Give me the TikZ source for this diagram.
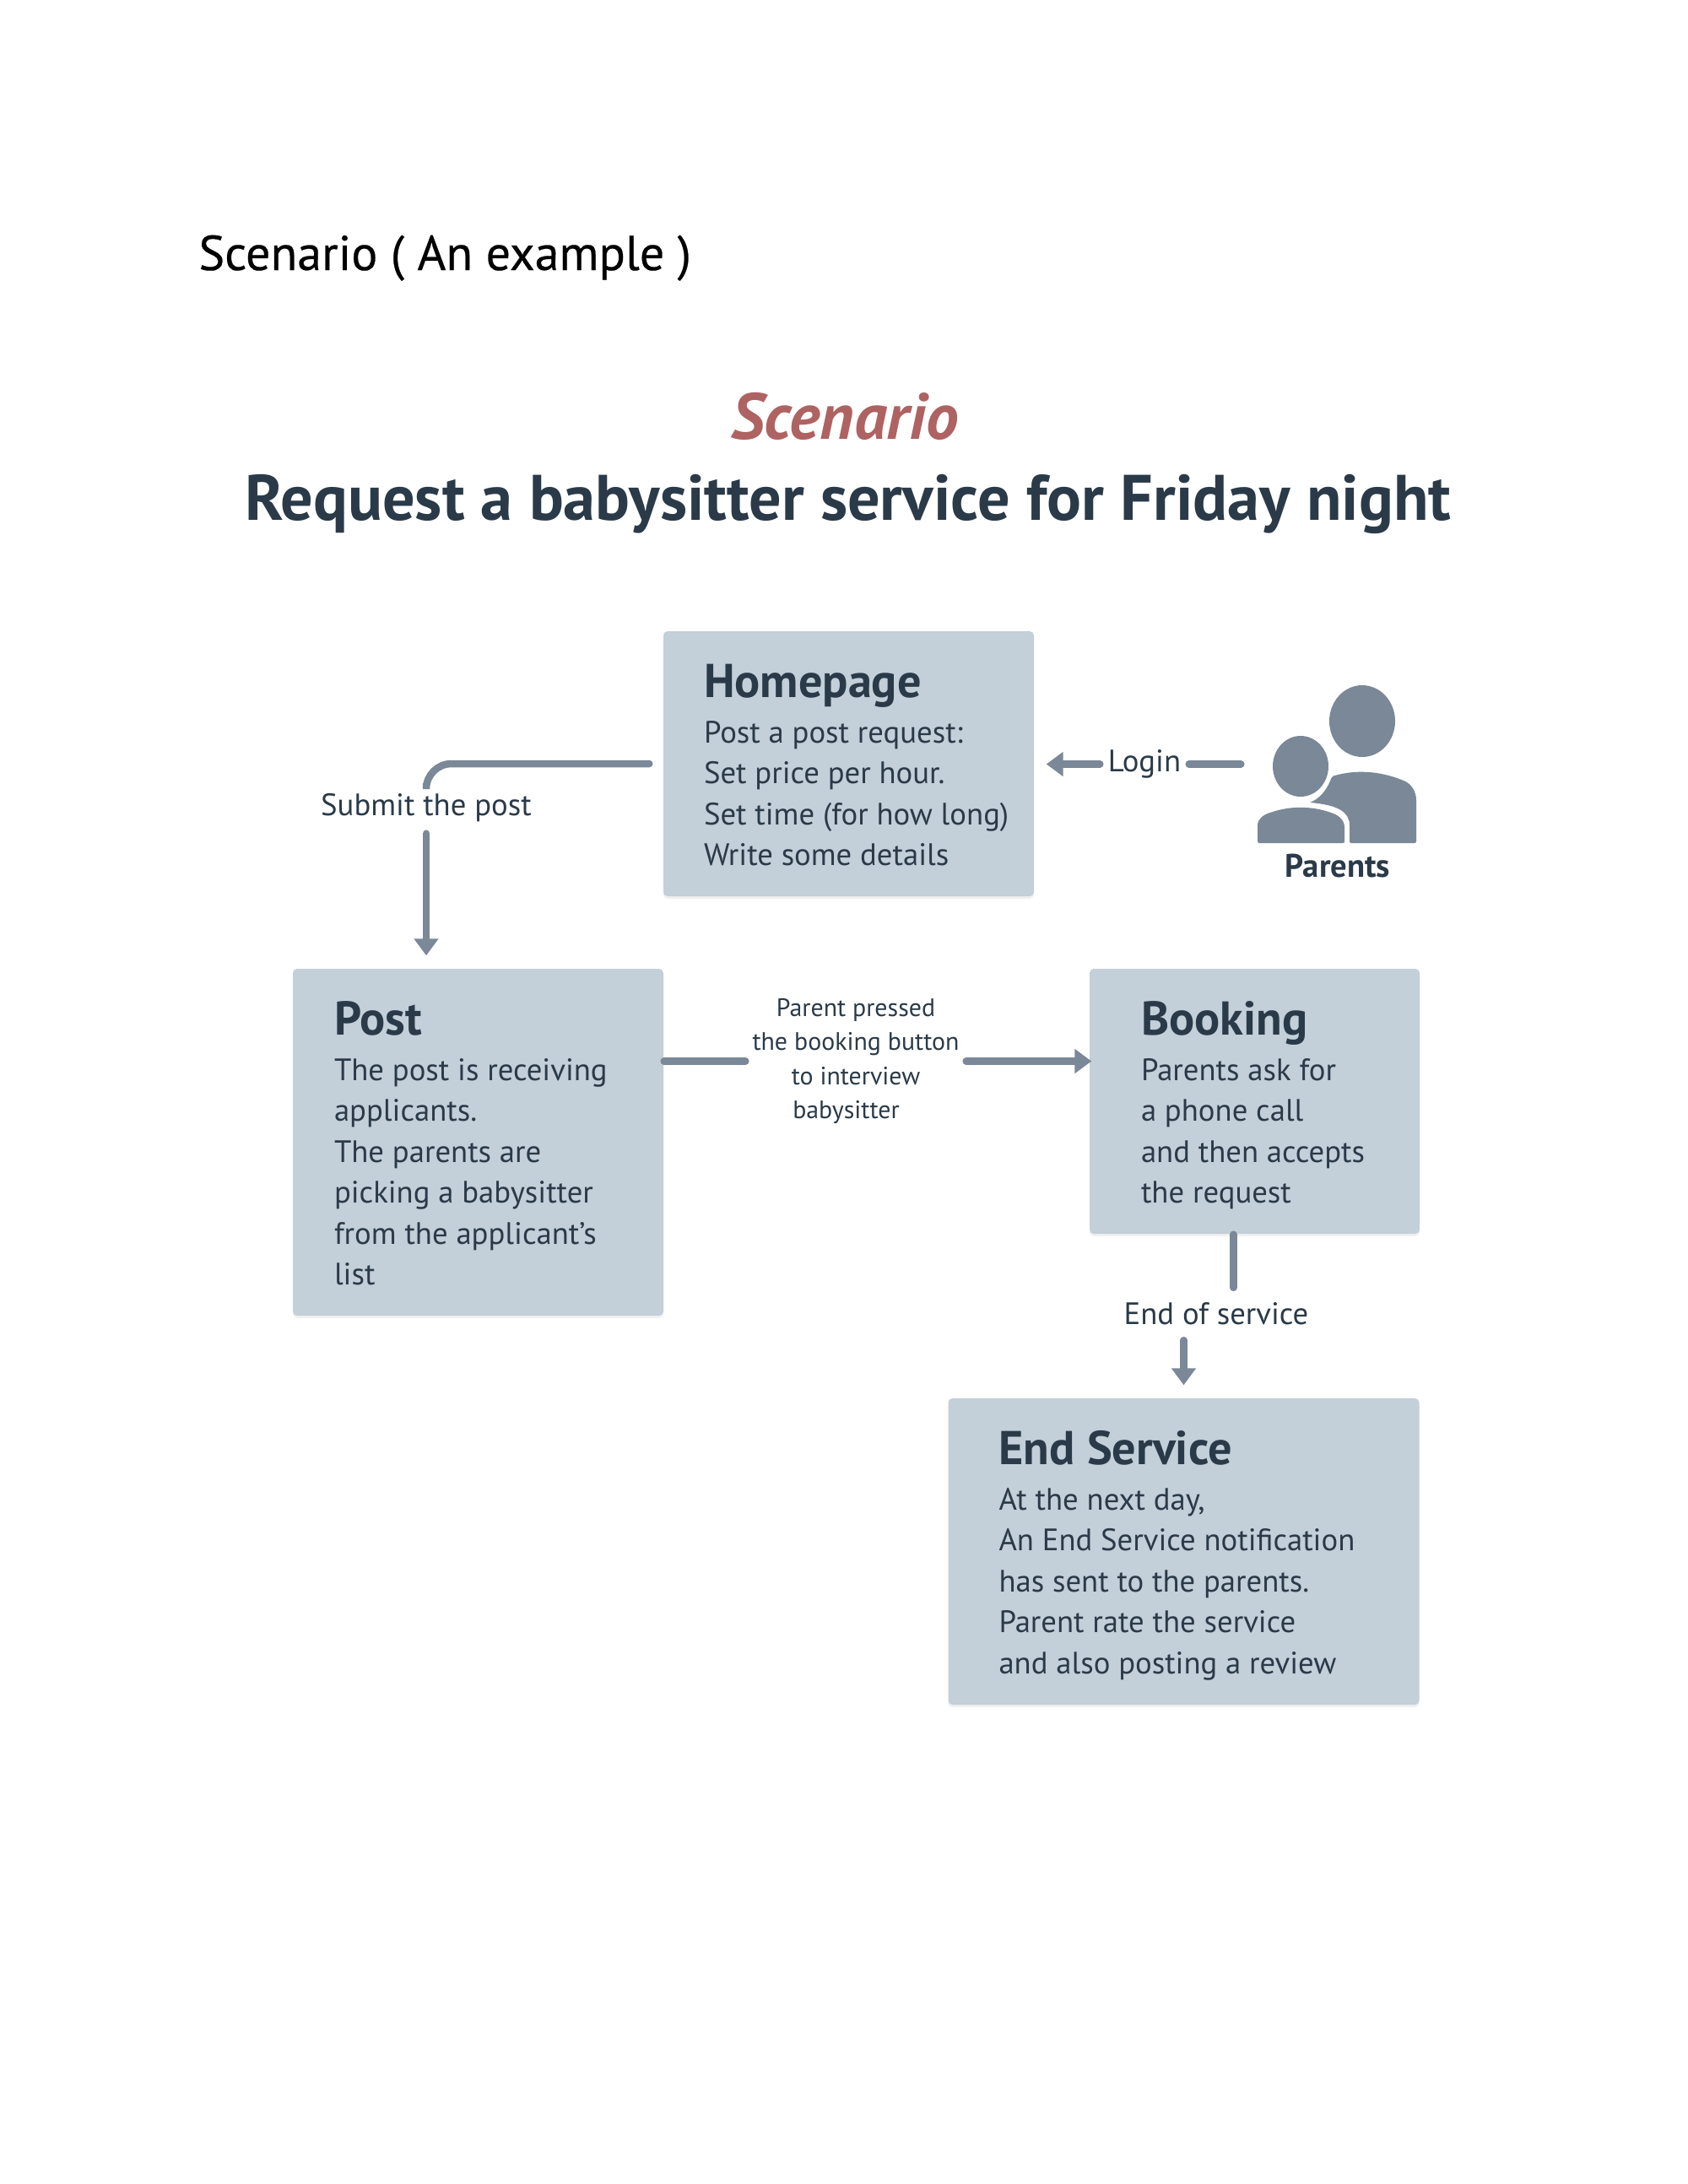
\documentclass[tikz,border=0pt]{standalone}
\usepackage{fontspec}
\setmainfont{PT Sans}
\newfontfamily\pagefont[FakeBold=.4]{PT Sans}
\usetikzlibrary{arrows.meta,shadows}
\definecolor{boxfill}{HTML}{C3CFD9}
\definecolor{linegray}{HTML}{7A8897}
\definecolor{inkblue}{HTML}{2A3A48}
\definecolor{rosered}{HTML}{AE6262}
\newcommand{\boxhead}[2][.5cm]{\rule{0pt}{#1}{\fontsize{16pt}{18pt}\selectfont\bfseries #2}\\[.05cm]}
\begin{document}
\begin{tikzpicture}[
		statebox/.style={fill=boxfill,rounded corners=.05cm,inner xsep=.48cm,inner ysep=0pt,align=flush left,
		text=inkblue,font=\fontsize{10.45pt}{13.8pt}\selectfont,
		drop shadow={opacity=.12,shadow xshift=0pt,shadow yshift=-.03cm}},
		connlabel/.style={text=inkblue,inner sep=0pt,font=\fontsize{10.45pt}{13pt}\selectfont},
		connline/.style={draw=linegray,line width=.085cm,line cap=round},
		connarrow/.style={connline,-{Triangle[width=.28cm,length=.2cm]}},
		usershape/.style={fill=linegray}
		]
		\useasboundingbox (0,0) rectangle (20,-25.88);
		\node[anchor=base west,font=\fontsize{16.5pt}{20pt}\pagefont\selectfont](PageTitle) at (2.23,-3.2){Scenario ( An example )};
		\node[anchor=base,text=rosered,font=\fontsize{22pt}{26pt}\selectfont\bfseries\itshape](ScenarioTitle) at (10.01,-5.2){Scenario};
		\node[anchor=base,text=inkblue,font=\fontsize{21.7pt}{26pt}\selectfont\bfseries](RequestTitle) at (10.05,-6.165){Request a babysitter service for Friday night};

		\node[statebox,text width=3.43cm,minimum height=3.14cm](Homepage) at (10.055,-9.05){\boxhead[.43cm]{Homepage}Post a post request:\\Set price per hour.\\\mbox{Set time (for how long)}\\Write some details};
		\node[statebox,inner xsep=.49cm,below of = Homepage,xshift=-4.39cm,yshift=-3.485cm,text width=3.41cm,minimum height=4.11cm](Post){\boxhead[.43cm]{Post}The post is receiving\\applicants.\\The parents are\\picking a babysitter\\from the applicant's\\list};
		\node[statebox,inner xsep=.61cm,below of = Homepage,xshift=4.81cm,yshift=-3cm,text width=2.69cm,minimum height=3.14cm](Booking){\boxhead{Booking}Parents ask for\\a phone call\\and then accepts\\the request};
		\node[statebox,inner xsep=.6cm,below of = Booking,xshift=-.84cm,yshift=-4.335cm,text width=4.38cm,minimum height=3.63cm](EndService){\boxhead{End Service}At the next day,\\An End Service notification\\has sent to the parents.\\Parent rate the service\\and also posting a review};

		\node[minimum width=1.88cm,minimum height=1.87cm,inner sep=0pt](ParentsIcon) at (15.84,-9.055){};
		\fill[usershape] (16.14,-8.545) ellipse (.39cm and .425cm);
		\fill[usershape] (15.41,-9.08) ellipse (.33cm and .36cm);
		\fill[usershape,rounded corners=.02cm] (14.9,-9.99) -- (14.9,-9.8) .. controls (14.9,-9.7) and (14.98,-9.65) .. (15.05,-9.63) .. controls (15.28,-9.55) and (15.54,-9.55) .. (15.77,-9.63) .. controls (15.86,-9.66) and (15.93,-9.72) .. (15.93,-9.82) -- (15.93,-9.99) -- cycle;
		\fill[usershape,rounded corners=.02cm] (15.52,-9.51) .. controls (15.66,-9.45) and (15.74,-9.32) .. (15.78,-9.2) .. controls (16.05,-9.12) and (16.33,-9.13) .. (16.63,-9.25) .. controls (16.72,-9.29) and (16.78,-9.38) .. (16.78,-9.5) -- (16.78,-9.99) -- (15.99,-9.99) -- (15.99,-9.8) .. controls (15.99,-9.62) and (15.85,-9.54) .. (15.52,-9.51) -- cycle;
		\node[below of = ParentsIcon,xshift=.01cm,yshift=-.21cm,text=inkblue,font=\fontsize{11pt}{13pt}\selectfont\bfseries](ParentsName){Parents};

		\node[connlabel,minimum width=1.04cm,minimum height=.45cm](LoginLabel) at (13.56,-9.055){Login};
		\draw[connline,shorten <=.19cm] (ParentsIcon.west) -- (LoginLabel.east);
		\draw[connarrow,shorten >=.14cm] (LoginLabel.west) -- (LoginLabel.west -| Homepage.east);

		\node[connlabel,minimum width=2.5cm,minimum height=.6cm](SubmitLabel) at (5.05,-9.57){Submit the post};
		\draw[connline,rounded corners=.3cm,shorten <=.16cm,shorten >=.03cm] (Homepage.west) -| (SubmitLabel.north);
		\draw[connarrow,shorten >=.15cm] (SubmitLabel.south) -- (SubmitLabel.south |- Post.north);

		\node[connlabel,minimum width=2.6cm,font=\fontsize{8.5pt}{11.55pt}\selectfont,align=center](PressedLabel) at (10.14,-12.575){Parent pressed\\the booking button\\to interview\\babysitter\hspace*{.23cm}};
		\draw[connline] (PressedLabel.west -| Post.east) -- (PressedLabel.west);
		\draw[connarrow,shorten >=-.03cm] (PressedLabel.east) -- (PressedLabel.east -| Booking.west);

		\node[connlabel,minimum width=2.3cm,minimum height=.61cm](EndLabel) at (14.41,-15.57){End of service};
		\coordinate (BookingOut) at ([xshift=-.25cm]Booking.south);
		\draw[connline] (BookingOut) -- (BookingOut |- EndLabel.north);
		\draw[connarrow,shorten >=.15cm] (EndLabel.south -| EndService.north) -- (EndService.north);
	\end{tikzpicture}
\end{document}
